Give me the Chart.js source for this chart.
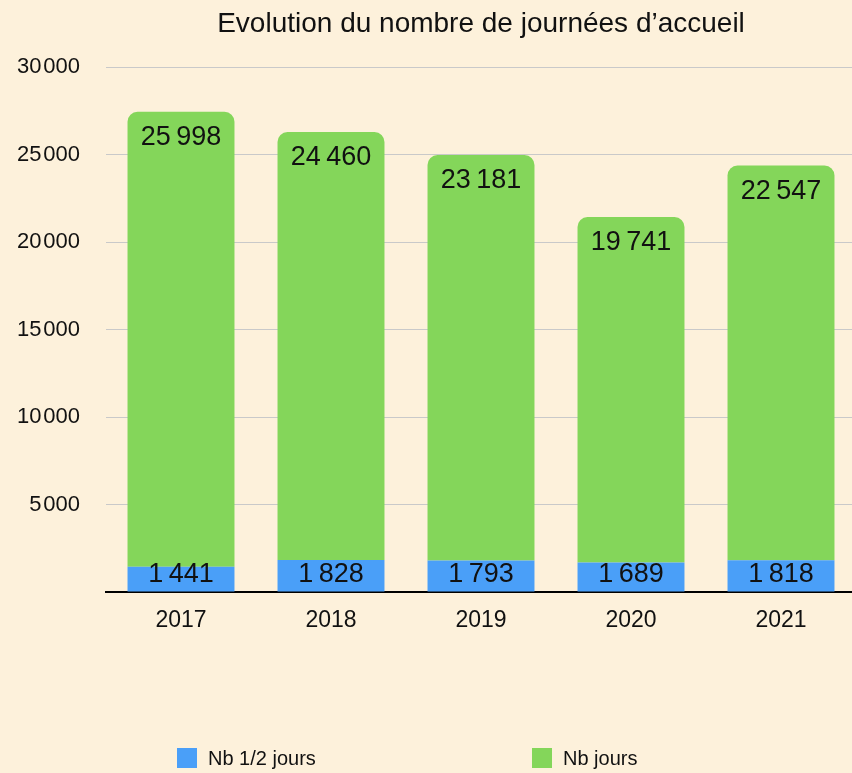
<!DOCTYPE html>
<html lang="fr">
<head>
  <meta charset="UTF-8" />
  <title>Journées d'accueil</title>
  <script src="https://cdn.jsdelivr.net/npm/chart.js"></script>
  <style>
    html, body { margin: 0; padding: 0; background: #FDF1DB; overflow: hidden; }
    #wrap { width: 852px; height: 773px; overflow: hidden; position: relative; }
  </style>
</head>
<body>
  <div id="wrap">
    <canvas id="graphe" width="856" height="773"></canvas>
  </div>
<script>
  // donnees
  const annees = ['2017', '2018', '2019', '2020', '2021'];
  const demiJours = [1441, 1828, 1793, 1689, 1818];
  const jours = [25998, 24460, 23181, 19741, 22547];
  const titre = "Evolution du nombre de journées d\u2019accueil";
  const police = '"Liberation Sans", Arial, Helvetica, sans-serif';

  // format "25 998" avec une espace fine (sep choisi selon le texte)
  function fmt(v, sep) {
    return String(v).replace(/\B(?=(\d{3})+(?!\d))/g, sep || '\u2009');
  }

  // titre, etiquettes des barres et legende dessines a la main
  const decor = {
    id: 'decor',
    afterDraw(chart) {
      const ctx = chart.ctx;
      const area = chart.chartArea;
      ctx.save();
      ctx.fillStyle = '#111';
      ctx.textAlign = 'center';

      ctx.font = '28px ' + police;
      ctx.textBaseline = 'middle';
      ctx.fillText(titre, (area.left + area.right) / 2, 24);

      ctx.font = '27px ' + police;
      ctx.textBaseline = 'alphabetic';
      chart.getDatasetMeta(0).data.forEach((bar, i) => {
        ctx.fillText(fmt(demiJours[i]), bar.x, bar.base - 10);
      });
      chart.getDatasetMeta(1).data.forEach((bar, i) => {
        ctx.fillText(fmt(jours[i]), bar.x, bar.y + 33);
      });

      // legende
      const items = [[177, 0], [532, 1]];
      ctx.font = '20px ' + police;
      ctx.textAlign = 'left';
      ctx.textBaseline = 'middle';
      items.forEach(([x, d]) => {
        const ds = chart.data.datasets[d];
        ctx.fillStyle = ds.backgroundColor;
        ctx.fillRect(x, 748, 20, 20);
        ctx.fillStyle = '#111';
        ctx.fillText(ds.label, x + 31, 759);
      });
      ctx.restore();
    }
  };

  new Chart(document.getElementById('graphe'), {
    type: 'bar',
    data: {
      labels: annees,
      datasets: [{
        label: 'Nb 1/2 jours',
        data: demiJours,
        backgroundColor: '#4A9FF8',
        borderWidth: 0
      }, {
        label: 'Nb jours',
        data: jours,
        backgroundColor: '#84D65A',
        borderWidth: 0,
        borderSkipped: false,
        borderRadius: { topLeft: 10, topRight: 10, bottomLeft: 0, bottomRight: 0 }
      }]
    },
    options: {
      responsive: false,
      animation: false,
      layout: { padding: { top: 67, left: 0, right: 0, bottom: 0 } },
      barPercentage: 0.713,
      categoryPercentage: 1,
      plugins: {
        legend: { display: false },
        title: { display: false },
        tooltip: { enabled: false }
      },
      scales: {
        x: {
          stacked: true,
          grid: { display: false },
          border: { color: '#000', width: 2 },
          ticks: { color: '#111', font: { family: police, size: 23 }, padding: 7 },
          afterFit(scale) { scale.height = 181; }
        },
        y: {
          stacked: true,
          min: 0,
          max: 30000,
          border: { display: false },
          grid: {
            drawTicks: false,
            color: ctx => ctx.tick && ctx.tick.value === 0 ? 'rgba(0,0,0,0)' : '#C9C9C9'
          },
          ticks: {
            stepSize: 5000,
            color: '#111',
            padding: 26,
            font: { family: police, size: 22 },
            callback: v => v === 0 ? '' : fmt(v, '\u200A')
          },
          afterFit(scale) { scale.width = 106; }
        }
      }
    },
    plugins: [decor]
  });
</script>
</body>
</html>
